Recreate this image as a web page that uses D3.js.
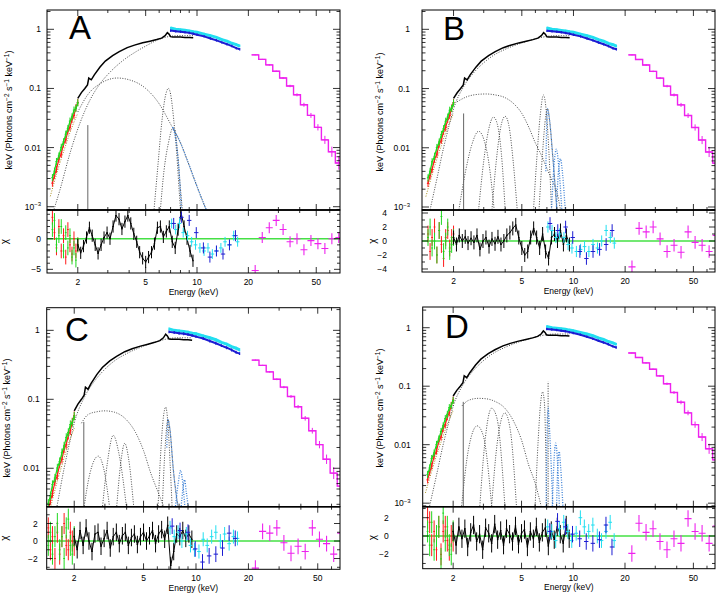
<!DOCTYPE html>
<html>
<head>
<meta charset="utf-8">
<script src="https://cdn.jsdelivr.net/npm/d3@7"></script>
<style>
  body { margin: 0; background: #fff; }
  svg { display: block; }
  text { font-family: "Liberation Sans", Arial, sans-serif; fill: #000; }
</style>
</head>
<body>
<svg id="chart" width="720" height="593"></svg>
<script>
// ---- spectra (same data in every fit) ----
var fiEnergy = [2.0, 2.1, 2.2, 2.28, 2.32, 2.4, 2.5, 2.7, 2.9, 3.2, 3.5, 3.9, 4.3, 4.8, 5.3, 5.8, 6.2, 6.5, 6.7, 6.85, 7.0, 7.2, 7.6, 8.0, 8.5, 9.0, 9.5]
var fiFlux = [0.068, 0.085, 0.1, 0.115, 0.15, 0.14, 0.17, 0.23, 0.29, 0.36, 0.42, 0.49, 0.54, 0.59, 0.63, 0.67, 0.71, 0.78, 0.88, 0.83, 0.75, 0.74, 0.74, 0.74, 0.73, 0.73, 0.72]

var xisEnergy = [1.42, 1.46, 1.5, 1.55, 1.6, 1.65, 1.7, 1.75, 1.8, 1.85, 1.9, 1.95, 2.0]
var redFlux = [0.0025, 0.0034, 0.0043, 0.0064, 0.0078, 0.0115, 0.0135, 0.019, 0.022, 0.030, 0.035, 0.047, 0.058]
var greenFlux = [0.0031, 0.004, 0.0058, 0.0072, 0.0101, 0.0125, 0.0168, 0.021, 0.028, 0.033, 0.043, 0.046, 0.057]

var pinEnergy = [7.0, 7.5, 8.0, 8.5, 9.0, 9.5, 10, 11, 12, 13, 14, 15, 16, 17, 17.8]
var cyanFlux = [1.05, 1.0, 0.98, 0.96, 0.94, 0.91, 0.89, 0.83, 0.78, 0.73, 0.67, 0.63, 0.58, 0.55, 0.52]
var blueFlux = [0.95, 0.93, 0.91, 0.89, 0.87, 0.84, 0.81, 0.76, 0.70, 0.65, 0.60, 0.56, 0.52, 0.48, 0.46]

var gsoEdges = [20.9, 23.0, 25.3, 27.8, 30.5, 33.5, 36.8, 40.4, 44.4, 48.8, 53.6, 58.9, 64.7, 71.0]
var gsoFlux = [0.37, 0.31, 0.25, 0.195, 0.15, 0.11, 0.078, 0.053, 0.035, 0.022, 0.0135, 0.0085, 0.0055]
var gsoErrFrac = [0.02, 0.02, 0.03, 0.03, 0.04, 0.05, 0.06, 0.08, 0.1, 0.13, 0.17, 0.22, 0.3]

// ---- model components [keV, flux] ----
var lowModel = [[1.38, 0.0015], [1.5, 0.0035], [1.6, 0.0065], [1.7, 0.011], [1.8, 0.018], [1.9, 0.027], [2.0, 0.038]]
var contA = [[1.45, 0.0009], [1.57, 0.0019], [1.8, 0.008], [2.06, 0.026], [2.36, 0.064], [2.7, 0.12], [3.1, 0.19], [3.7, 0.3], [4.4, 0.42], [5.0, 0.52], [5.8, 0.65], [6.5, 0.73], [7.2, 0.77], [8.0, 0.78], [9.5, 0.78]]
var contBCD = [[1.46, 0.0009], [1.6, 0.003], [1.75, 0.01], [1.9, 0.026], [2.0, 0.045], [2.3, 0.11], [2.6, 0.18], [2.9, 0.25], [3.4, 0.36], [4.0, 0.46], [5.0, 0.59], [6.0, 0.69], [7.0, 0.76], [8.0, 0.78], [9.5, 0.78]]

var bbA = [[2.0, 0.04], [2.3, 0.08], [2.7, 0.12], [3.0, 0.14], [3.4, 0.15], [4.0, 0.14], [5.0, 0.1], [6.0, 0.055], [7.0, 0.025], [8.0, 0.012], [9.0, 0.005], [10.0, 0.0022], [11.3, 0.0009]]
var bbB = [[2.1, 0.06], [2.4, 0.073], [2.8, 0.08], [3.1, 0.081], [3.5, 0.078], [4.0, 0.07], [4.5, 0.055], [5.0, 0.038], [5.5, 0.022], [6.0, 0.012], [6.5, 0.0075], [7.0, 0.0045], [7.5, 0.0028], [8.0, 0.0018], [8.4, 0.0009]]
var bbC = [[2.2, 0.045], [2.4, 0.06], [2.7, 0.066], [3.0, 0.068], [3.4, 0.065], [4.0, 0.05], [4.5, 0.033], [5.0, 0.018], [5.5, 0.0085], [6.0, 0.0048], [6.6, 0.0026]]
var bbD = [[2.25, 0.046], [2.45, 0.057], [2.8, 0.062], [3.1, 0.061], [3.5, 0.055], [4.0, 0.042], [4.5, 0.025], [5.0, 0.012], [5.5, 0.0045], [6.0, 0.0022], [6.5, 0.0009]]

var linesA = [
  [[5.6, 0.0009], [5.9, 0.005], [6.2, 0.025], [6.5, 0.07], [6.8, 0.1], [7.0, 0.08], [7.3, 0.03], [7.6, 0.008], [7.9, 0.0015], [8.0, 0.0009]],
  [[6.1, 0.0009], [6.4, 0.004], [6.8, 0.012], [7.2, 0.021], [7.4, 0.02], [7.7, 0.008], [8.0, 0.002], [8.2, 0.0009]]
]
var linesB = [
  [[2.15, 0.0009], [2.35, 0.004], [2.55, 0.011], [2.8, 0.019], [3.0, 0.014], [3.2, 0.006], [3.45, 0.0009]],
  [[2.8, 0.0009], [3.0, 0.006], [3.2, 0.02], [3.42, 0.033], [3.6, 0.025], [3.8, 0.008], [4.0, 0.0009]],
  [[3.35, 0.0009], [3.55, 0.006], [3.8, 0.025], [4.0, 0.034], [4.2, 0.024], [4.45, 0.006], [4.7, 0.0009]],
  [[5.85, 0.0009], [6.1, 0.006], [6.4, 0.035], [6.68, 0.078], [6.95, 0.04], [7.2, 0.008], [7.45, 0.0009]],
  [[6.3, 0.0009], [6.6, 0.008], [6.9, 0.035], [7.05, 0.046], [7.25, 0.03], [7.55, 0.008], [8.0, 0.0009]]
]
var linesC = [
  [[2.27, 0.0026], [2.45, 0.008], [2.75, 0.015], [2.95, 0.01], [3.2, 0.0026]],
  [[2.9, 0.0026], [3.1, 0.012], [3.35, 0.03], [3.6, 0.017], [4.0, 0.0026]],
  [[3.5, 0.0026], [3.7, 0.012], [3.9, 0.023], [4.1, 0.014], [4.4, 0.0026]],
  [[6.05, 0.0026], [6.3, 0.02], [6.5, 0.055], [6.7, 0.077], [6.9, 0.045], [7.1, 0.012], [7.3, 0.0026]],
  [[6.4, 0.0026], [6.65, 0.02], [6.9, 0.051], [7.1, 0.035], [7.4, 0.01], [7.9, 0.0026]]
]
var linesD = [
  [[2.24, 0.0009], [2.45, 0.008], [2.76, 0.021], [3.0, 0.014], [3.35, 0.0009]],
  [[2.86, 0.0009], [3.05, 0.01], [3.35, 0.042], [3.6, 0.028], [4.0, 0.0009]],
  [[3.35, 0.0009], [3.6, 0.01], [4.0, 0.035], [4.3, 0.018], [4.67, 0.0009]],
  [[6.0, 0.0009], [6.25, 0.012], [6.45, 0.05], [6.63, 0.08], [6.8, 0.05], [7.0, 0.0009]]
]
var pinLinesA = [
  [[7.2, 0.022], [7.5, 0.014], [7.8, 0.005], [8.1, 0.0009]],
  [[7.2, 0.022], [8.0, 0.012], [9.0, 0.005], [10.0, 0.0022], [11.3, 0.0009]]
]
var pinLinesB = [
  [[6.9, 0.004], [7.05, 0.046], [7.25, 0.03], [7.55, 0.008], [8.0, 0.0009]],
  [[7.45, 0.0009], [7.7, 0.005], [7.95, 0.0095], [8.2, 0.005], [8.55, 0.0009]],
  [[7.95, 0.0009], [8.15, 0.0035], [8.4, 0.0065], [8.65, 0.0035], [8.95, 0.0009]]
]
var pinLinesC = [
  [[6.8, 0.02], [6.9, 0.051], [7.1, 0.035], [7.4, 0.01], [7.9, 0.0026]],
  [[7.6, 0.0026], [7.9, 0.006], [8.17, 0.0093], [8.4, 0.006], [8.65, 0.0026]],
  [[8.2, 0.0026], [8.4, 0.0048], [8.6, 0.0068], [8.8, 0.0045], [9.05, 0.0026]]
]
var pinLinesD = [
  [[6.95, 0.0009], [7.05, 0.02], [7.14, 0.042], [7.3, 0.015], [7.6, 0.0009]],
  [[7.55, 0.0009], [7.72, 0.005], [7.9, 0.0106], [8.1, 0.005], [8.3, 0.0009]],
  [[8.0, 0.0009], [8.12, 0.004], [8.28, 0.0076], [8.45, 0.004], [8.7, 0.0009]]
]
var edgesA = [[2.29, 0.024]]
var edgesB = [[2.29, 0.038]]
var edgesC = [[2.27, 0.047]]
var edgesD = [[2.29, 0.054], [7.14, 0.12]]

// ---- residuals (chi) ----
var resEnergy = [2.0, 2.08, 2.16, 2.25, 2.34, 2.43, 2.53, 2.63, 2.74, 2.85, 2.97, 3.09, 3.22, 3.35, 3.49, 3.63, 3.78, 3.93, 4.09, 4.26, 4.43, 4.61, 4.8, 5.0, 5.2, 5.41, 5.63, 5.86, 6.1, 6.35, 6.61, 6.88, 7.16, 7.45, 7.75, 8.07, 8.4, 8.74, 9.1, 9.47]
var blackResA = [-1.0, -2.3, -1.2, 0.2, 1.8, 0.5, -1.0, -2.4, -1.0, 0.2, 1.0, 0.0, 2.0, 3.8, 3.2, 1.6, 2.8, 3.8, 2.5, 0.8, -0.5, -2.2, -3.2, -3.8, -3.0, -2.2, -0.8, 1.8, 2.0, 0.3, 1.2, 2.0, -0.5, -1.5, 1.5, 4.2, 2.0, 0.0, -2.0, -3.6]
var blackResB = [0.5, -0.5, 0.8, 0.0, 0.6, -0.3, 0.4, -0.2, 0.8, -1.2, 0.0, 0.5, -0.8, 0.3, -0.4, 0.6, -0.5, 0.0, 0.8, 1.2, 1.8, 2.3, 0.5, -1.0, -2.0, -1.5, 0.5, 1.8, 0.5, -1.0, 1.0, -1.5, -2.5, 0.5, 1.0, 0.0, 1.5, -0.5, 0.8, -0.5]
var blackResC = [0.5, -1.0, 1.2, -0.5, 1.5, 0.0, -1.2, 0.8, 1.0, -0.6, 0.3, 1.2, -0.8, 0.5, 1.0, -0.3, 0.6, 1.0, -0.5, 0.4, 0.8, -0.4, 0.5, 1.0, 0.0, 0.6, 1.2, -0.3, 0.8, 1.3, 0.2, 1.8, -2.8, -1.2, 0.8, 0.5, 1.2, 0.3, 0.8, 0.2]
var blackResD = [0.5, -1.0, 1.0, -0.3, 0.8, -1.2, 0.4, 1.2, -0.6, 0.2, -1.5, 0.9, 0.3, -0.8, 1.3, -0.4, 0.6, -1.0, 0.8, 0.2, -0.6, 1.1, -0.9, 0.3, 0.7, -1.2, 0.5, -0.3, 1.0, -0.7, 0.4, 0.9, -1.1, 0.6, -0.4, 1.0, 0.2, -0.8, 1.2, -0.3]

var redResA = [3.5, 1.0, -1.5, 2.0, -2.0, 0.5, -3.0, 1.5, -1.0, -2.5, 0.0, -2.0, -1.0]
var greenResA = [1.5, 3.0, -1.0, 0.5, 2.0, -2.0, 1.0, -1.5, 0.5, -3.0, -1.5, -3.5, -1.0]
var redResB = [1.0, -1.5, 0.5, 2.0, -2.0, 1.5, -0.5, -2.5, 0.5, 1.5, -1.0, 0.5, 1.0]
var greenResB = [0.5, 2.0, -1.0, 0.0, -2.0, 1.5, 3.5, -1.5, 0.0, 2.0, -1.5, -0.5, 0.5]
var redResC = [1.5, -1.0, 0.5, -2.0, 1.0, -1.5, 0.5, 2.0, -0.5, -1.0, 1.0, 0.0, -0.5]
var greenResC = [-0.5, 1.0, -1.5, 0.5, 2.0, -1.0, 0.5, -2.0, 1.5, 2.5, -0.5, -1.5, 0.5]
var redResD = [2.0, 1.5, -1.0, 0.5, -1.5, 1.0, -2.0, 0.5, 1.0, -0.5, -1.5, 0.0, -0.5]
var greenResD = [0.5, -1.0, 1.5, -1.5, 0.0, 1.0, -2.5, 2.5, -0.5, 1.0, -1.0, -2.0, 0.5]

var cyanResEnergy = [7.1, 7.5, 7.9, 8.3, 8.8, 9.3, 9.8, 10.4, 11, 11.6, 12.3, 13, 13.8, 14.6, 15.5, 16.4, 17.3]
var cyanResA = [2.5, 1.5, 2.5, 1.0, 0.5, -0.5, -1.0, -1.5, -2.0, -1.5, -2.5, -2.0, -1.5, -0.5, -1.0, 0.5, -0.5]
var cyanResB = [2.0, 1.5, 0.5, 1.0, 0.5, -0.5, -1.0, -1.5, -1.2, -0.8, -1.5, -0.5, -1.0, 0.0, 1.5, 0.5, -0.3]
var cyanResC = [1.5, 0.5, 1.0, 0.0, 0.8, -0.5, -1.0, -1.2, 0.2, -0.5, 0.5, 1.0, 0.0, 0.8, -0.3, 0.5, 0.3]
var cyanResD = [1.0, 0.5, -0.5, 0.8, 1.5, 0.5, -0.5, 0.3, 2.0, 1.0, 0.5, 1.2, 0.0, -0.5, 0.5, 1.5, -0.5]

var blueResEnergy = [7.3, 8.1, 9.0, 9.9, 10.9, 11.9, 13.0, 14.2, 15.5, 16.8]
var blueResA = [2.5, 3.5, 3.0, 1.0, -1.5, -3.0, -2.0, -2.5, -1.0, 0.5]
var blueResB = [2.5, 1.5, 2.0, 0.5, -1.5, -2.5, -1.5, -1.2, -0.5, 1.5]
var blueResC = [1.7, 1.2, 1.0, -0.9, -2.4, -1.7, -1.5, -0.8, 0.9, 0.3]
var blueResD = [0.5, 1.6, 1.0, 0.2, -0.3, -0.6, -0.8, -0.4, 1.2, -1.2]

var gsoResA = [-5.2, 0.2, 1.8, 3.0, 1.5, -0.5, 0.0, -1.8, -0.3, -0.8, -1.6, 0.0, 0.2]
var gsoResB = [-3.7, 1.8, 1.3, 2.0, 0.3, -1.5, -0.6, -1.6, 1.3, -0.2, -0.6, -1.5, 0.8]
var gsoResC = [-3.1, 1.1, 0.9, 1.5, -0.2, -1.4, -0.6, -1.2, 1.5, 0.2, -0.3, -1.5, 0.9]
var gsoResD = [-1.9, 1.4, 0.4, 0.8, -0.6, -1.5, -0.3, -0.8, 1.9, 0.5, 0.3, -0.8, 1.1]

var xLabels = [2, 5, 10, 20, 50]

var colors = {
  red: '#ff1a1a', green: '#1fd81f', blue: '#1c1cd2', cyan: '#22dff0',
  magenta: '#ee22ee', model: '#4a4a4a', olive: '#a89020', pin: '#3a7fd5', zero: '#45e045'
}

// layout of the four panels
var panels = [
  { name: 'A', left: 47, right: 340, top: 10, mid: 210, bottom: 273,
    xDomain: [1.32, 68.9], yDomain: [8.8e-4, 2.12], rDomain: [-5.6, 4.7], rStep: 5,
    yGap: 6, rGap: 6, titleX: 9, chiX: 8, titleY: 110, letterX: 69, letterY: 39,
    cont: contA, bb: bbA, lines: linesA, pinLines: pinLinesA, edges: edgesA,
    black: blackResA, red: redResA, green: greenResA, cyan: cyanResA, blue: blueResA, gso: gsoResA },
  { name: 'B', left: 422, right: 715, top: 10, mid: 210, bottom: 272,
    xDomain: [1.31, 66.8], yDomain: [8.9e-4, 2.12], rDomain: [-4.43, 4.43], rStep: 2,
    yGap: 12, rGap: 35, titleX: 380, chiX: 376, titleY: 112, letterX: 443, letterY: 40,
    cont: contBCD, bb: bbB, lines: linesB, pinLines: pinLinesB, edges: edgesB,
    black: blackResB, red: redResB, green: greenResB, cyan: cyanResB, blue: blueResB, gso: gsoResB },
  { name: 'C', left: 46.7, right: 340, top: 307.7, mid: 506.7, bottom: 569.3,
    xDomain: [1.39, 67.1], yDomain: [2.77e-3, 2.13], rDomain: [-3.23, 3.92], rStep: 2,
    yGap: 7, rGap: 9, titleX: 7, chiX: 8, titleY: 418, letterX: 65, letterY: 341,
    cont: contBCD, bb: bbC, lines: linesC, pinLines: pinLinesC, edges: edgesC,
    black: blackResC, red: redResC, green: greenResC, cyan: cyanResC, blue: blueResC, gso: gsoResC },
  { name: 'D', left: 422.7, right: 715, top: 307, mid: 506.7, bottom: 568.7,
    xDomain: [1.33, 66.8], yDomain: [8.7e-4, 2.26], rDomain: [-3.57, 3.2], rStep: 2,
    yGap: 12, rGap: 34, titleX: 380, chiX: 376, titleY: 408, letterX: 445, letterY: 338,
    cont: contBCD, bb: bbD, lines: linesD, pinLines: pinLinesD, edges: edgesD,
    black: blackResD, red: redResD, green: greenResD, cyan: cyanResD, blue: blueResD, gso: gsoResD }
]

var svg = d3.select('#chart')
var defs = svg.append('defs')

function isDecade(v) {
  var l = Math.log10(v)
  return Math.abs(l - Math.round(l)) < 1e-6
}

function drawPanel(p) {
  var x = d3.scaleLog().domain(p.xDomain).range([p.left, p.right])
  var y = d3.scaleLog().domain(p.yDomain).range([p.mid, p.top])
  var r = d3.scaleLinear().domain(p.rDomain).range([p.bottom, p.mid])
  var w = p.right - p.left

  defs.append('clipPath').attr('id', 'main' + p.name).append('rect')
    .attr('x', p.left).attr('y', p.top).attr('width', w).attr('height', p.mid - p.top)
  defs.append('clipPath').attr('id', 'res' + p.name).append('rect')
    .attr('x', p.left).attr('y', p.mid).attr('width', w).attr('height', p.bottom - p.mid)

  var g = svg.append('g')
  var main = g.append('g').attr('clip-path', 'url(#main' + p.name + ')')
  var res = g.append('g').attr('clip-path', 'url(#res' + p.name + ')')

  var smooth = d3.line().x(function (d) { return x(d[0]) }).y(function (d) { return y(d[1]) })
    .curve(d3.curveMonotoneX)
  var straight = d3.line().x(function (d) { return x(d[0]) }).y(function (d) { return y(d[1]) })

  function dotted(data, color, width) {
    main.append('path').attr('d', smooth(data)).attr('fill', 'none')
      .attr('stroke', color).attr('stroke-width', width || 1).attr('stroke-dasharray', '1,1.5')
  }

  // model components
  dotted(lowModel, colors.olive, 1)
  dotted(p.cont, colors.model, 1)
  dotted(p.bb, colors.model, 1)
  p.lines.forEach(function (l) { dotted(l, colors.model, 1) })
  p.edges.forEach(function (e, i) {
    main.append('line').attr('x1', x(e[0])).attr('x2', x(e[0]))
      .attr('y1', p.mid).attr('y2', y(e[1]))
      .attr('stroke', i === 0 ? '#666' : '#333').attr('stroke-width', 1)
      .attr('stroke-dasharray', i === 0 ? null : '1,1.5')
  })

  // soft X-ray data with error bars
  function xisData(flux, color) {
    var pts = d3.zip(xisEnergy, flux)
    main.append('path').attr('d', straight(pts)).attr('fill', 'none')
      .attr('stroke', color).attr('stroke-width', 1.2)
    main.selectAll(null).data(pts).enter().append('path')
      .attr('d', function (d) {
        return 'M' + x(d[0]) + ',' + y(d[1] * 1.15) + 'V' + y(d[1] / 1.15) +
          'M' + x(d[0] * 0.985) + ',' + y(d[1]) + 'H' + x(d[0] * 1.015)
      })
      .attr('stroke', color).attr('stroke-width', 1).attr('fill', 'none')
  }
  xisData(redFlux, colors.red)
  xisData(greenFlux, colors.green)

  main.append('path').attr('d', straight(d3.zip(fiEnergy, fiFlux))).attr('fill', 'none')
    .attr('stroke', '#000').attr('stroke-width', 1.5)

  // hard X-ray data
  function pinData(flux, color, width) {
    var pts = d3.zip(pinEnergy, flux)
    main.append('path').attr('d', straight(pts)).attr('fill', 'none')
      .attr('stroke', color).attr('stroke-width', width)
    main.selectAll(null).data(pts).enter().append('path')
      .attr('d', function (d) {
        return 'M' + x(d[0]) + ',' + y(d[1] * 1.05) + 'V' + y(d[1] / 1.05)
      })
      .attr('stroke', color).attr('stroke-width', 1.2)
  }
  pinData(cyanFlux, colors.cyan, 3)
  pinData(blueFlux, colors.blue, 2)

  p.pinLines.forEach(function (l) { dotted(l, colors.pin, 1.3) })

  // GSO steps + data crosses
  var steps = gsoFlux.map(function (f, i) { return [gsoEdges[i], f] })
  steps.push([gsoEdges[gsoEdges.length - 1], gsoFlux[gsoFlux.length - 1]])
  main.append('path')
    .attr('d', d3.line().x(function (d) { return x(d[0]) }).y(function (d) { return y(d[1]) })
      .curve(d3.curveStepAfter)(steps))
    .attr('fill', 'none').attr('stroke', colors.magenta).attr('stroke-width', 1.4)
  main.selectAll(null).data(gsoFlux).enter().append('path')
    .attr('d', function (f, i) {
      var e0 = gsoEdges[i], e1 = gsoEdges[i + 1], c = Math.sqrt(e0 * e1), k = 1 + gsoErrFrac[i]
      return 'M' + x(e0) + ',' + y(f) + 'H' + x(e1) + 'M' + x(c) + ',' + y(f * k) + 'V' + y(f / k)
    })
    .attr('stroke', colors.magenta).attr('stroke-width', 1).attr('fill', 'none')

  // residuals
  res.append('line').attr('x1', p.left).attr('x2', p.right).attr('y1', r(0)).attr('y2', r(0))
    .attr('stroke', colors.zero).attr('stroke-width', 1.6)

  function crosses(energy, vals, color, xFrac, yErr, join) {
    var pts = d3.zip(energy, vals)
    if (join) {
      res.append('path')
        .attr('d', d3.line().x(function (d) { return x(d[0]) }).y(function (d) { return r(d[1]) })(pts))
        .attr('fill', 'none').attr('stroke', color).attr('stroke-width', 1)
    }
    res.selectAll(null).data(pts).enter().append('path')
      .attr('d', function (d) {
        return 'M' + x(d[0] / (1 + xFrac)) + ',' + r(d[1]) + 'H' + x(d[0] * (1 + xFrac)) +
          'M' + x(d[0]) + ',' + r(d[1] + yErr) + 'V' + r(d[1] - yErr)
      })
      .attr('stroke', color).attr('stroke-width', 1).attr('fill', 'none')
  }
  crosses(xisEnergy, p.red, colors.red, 0.012, 1.2, false)
  crosses(xisEnergy, p.green, colors.green, 0.012, 1.2, false)
  crosses(resEnergy, p.black, '#000', 0.01, 1.0, true)
  crosses(cyanResEnergy, p.cyan, colors.cyan, 0.025, 0.8, false)
  crosses(blueResEnergy, p.blue, colors.blue, 0.03, 0.9, false)
  res.selectAll(null).data(p.gso).enter().append('path')
    .attr('d', function (v, i) {
      var e0 = gsoEdges[i], e1 = gsoEdges[i + 1], c = Math.sqrt(e0 * e1)
      return 'M' + x(e0) + ',' + r(v) + 'H' + x(e1) + 'M' + x(c) + ',' + r(v + 0.9) + 'V' + r(v - 0.9)
    })
    .attr('stroke', colors.magenta).attr('stroke-width', 1.1).attr('fill', 'none')

  // frames
  g.append('rect').attr('x', p.left).attr('y', p.top).attr('width', w).attr('height', p.mid - p.top)
    .attr('fill', 'none').attr('stroke', '#000').attr('stroke-width', 1)
  g.append('rect').attr('x', p.left).attr('y', p.mid).attr('width', w).attr('height', p.bottom - p.mid)
    .attr('fill', 'none').attr('stroke', '#000').attr('stroke-width', 1)
  g.append('line').attr('x1', p.left).attr('x2', p.right).attr('y1', p.mid).attr('y2', p.mid)
    .attr('stroke', '#000').attr('stroke-width', 1.6)

  var ticks = g.append('g').attr('stroke', '#000').attr('stroke-width', 0.8)
  x.ticks().forEach(function (v) {
    var big = xLabels.indexOf(v) >= 0 ? 6 : 3
    var px = x(v)
    ;[[p.top, big], [p.mid, -big], [p.mid, big], [p.bottom, -big]].forEach(function (t) {
      ticks.append('line').attr('x1', px).attr('x2', px).attr('y1', t[0]).attr('y2', t[0] + t[1])
    })
  })
  y.ticks().forEach(function (v) {
    var len = isDecade(v) ? 7 : 3.5
    var py = y(v)
    ticks.append('line').attr('x1', p.left).attr('x2', p.left + len).attr('y1', py).attr('y2', py)
    ticks.append('line').attr('x1', p.right).attr('x2', p.right - len).attr('y1', py).attr('y2', py)
  })
  var rInts = d3.range(Math.ceil(p.rDomain[0]), Math.floor(p.rDomain[1]) + 1)
  rInts.forEach(function (v) {
    var len = v % p.rStep === 0 ? 6 : 3
    var py = r(v)
    ticks.append('line').attr('x1', p.left).attr('x2', p.left + len).attr('y1', py).attr('y2', py)
    ticks.append('line').attr('x1', p.right).attr('x2', p.right - len).attr('y1', py).attr('y2', py)
  })

  // labels
  var lab = g.append('g').style('font-size', '8.5px')
  xLabels.forEach(function (v) {
    lab.append('text').attr('x', x(v)).attr('y', p.bottom + 12).attr('text-anchor', 'middle').text(v)
  })
  lab.append('text').attr('x', (p.left + p.right) / 2).attr('y', p.bottom + 21.5)
    .attr('text-anchor', 'middle').text('Energy (keV)')

  y.ticks().filter(isDecade).forEach(function (v) {
    var t = lab.append('text').attr('x', p.left - p.yGap).attr('y', y(v) + 3).attr('text-anchor', 'end')
    if (v >= 0.01) {
      t.text(String(v))
    } else {
      t.text('10')
      t.append('tspan').attr('dy', -3.5).style('font-size', '6px').text('\u2212' + (-Math.round(Math.log10(v))))
    }
  })
  rInts.filter(function (v) { return v % p.rStep === 0 }).forEach(function (v) {
    lab.append('text').attr('x', p.left - p.rGap).attr('y', r(v) + 3).attr('text-anchor', 'end')
      .text(v < 0 ? '\u2212' + (-v) : String(v))
  })

  var title = lab.append('text').style('font-size', '9px').attr('text-anchor', 'middle')
    .attr('transform', 'translate(' + (p.titleX + 3) + ',' + p.titleY + ') rotate(-90)')
  title.append('tspan').text('keV (Photons cm')
  title.append('tspan').attr('dy', -3).style('font-size', '6.5px').text('\u22122')
  title.append('tspan').attr('dy', 3).text(' s')
  title.append('tspan').attr('dy', -3).style('font-size', '6.5px').text('\u22121')
  title.append('tspan').attr('dy', 3).text(' keV')
  title.append('tspan').attr('dy', -3).style('font-size', '6.5px').text('\u22121')
  title.append('tspan').attr('dy', 3).text(')')

  lab.append('text').style('font-size', '10px').attr('text-anchor', 'middle')
    .attr('transform', 'translate(' + p.chiX + ',' + ((p.mid + p.bottom) / 2) + ') rotate(-90)')
    .text('\u03c7')

  g.append('text').attr('x', p.letterX).attr('y', p.letterY).style('font-size', '33px').text(p.name)
}

panels.forEach(drawPanel)
</script>
</body>
</html>
